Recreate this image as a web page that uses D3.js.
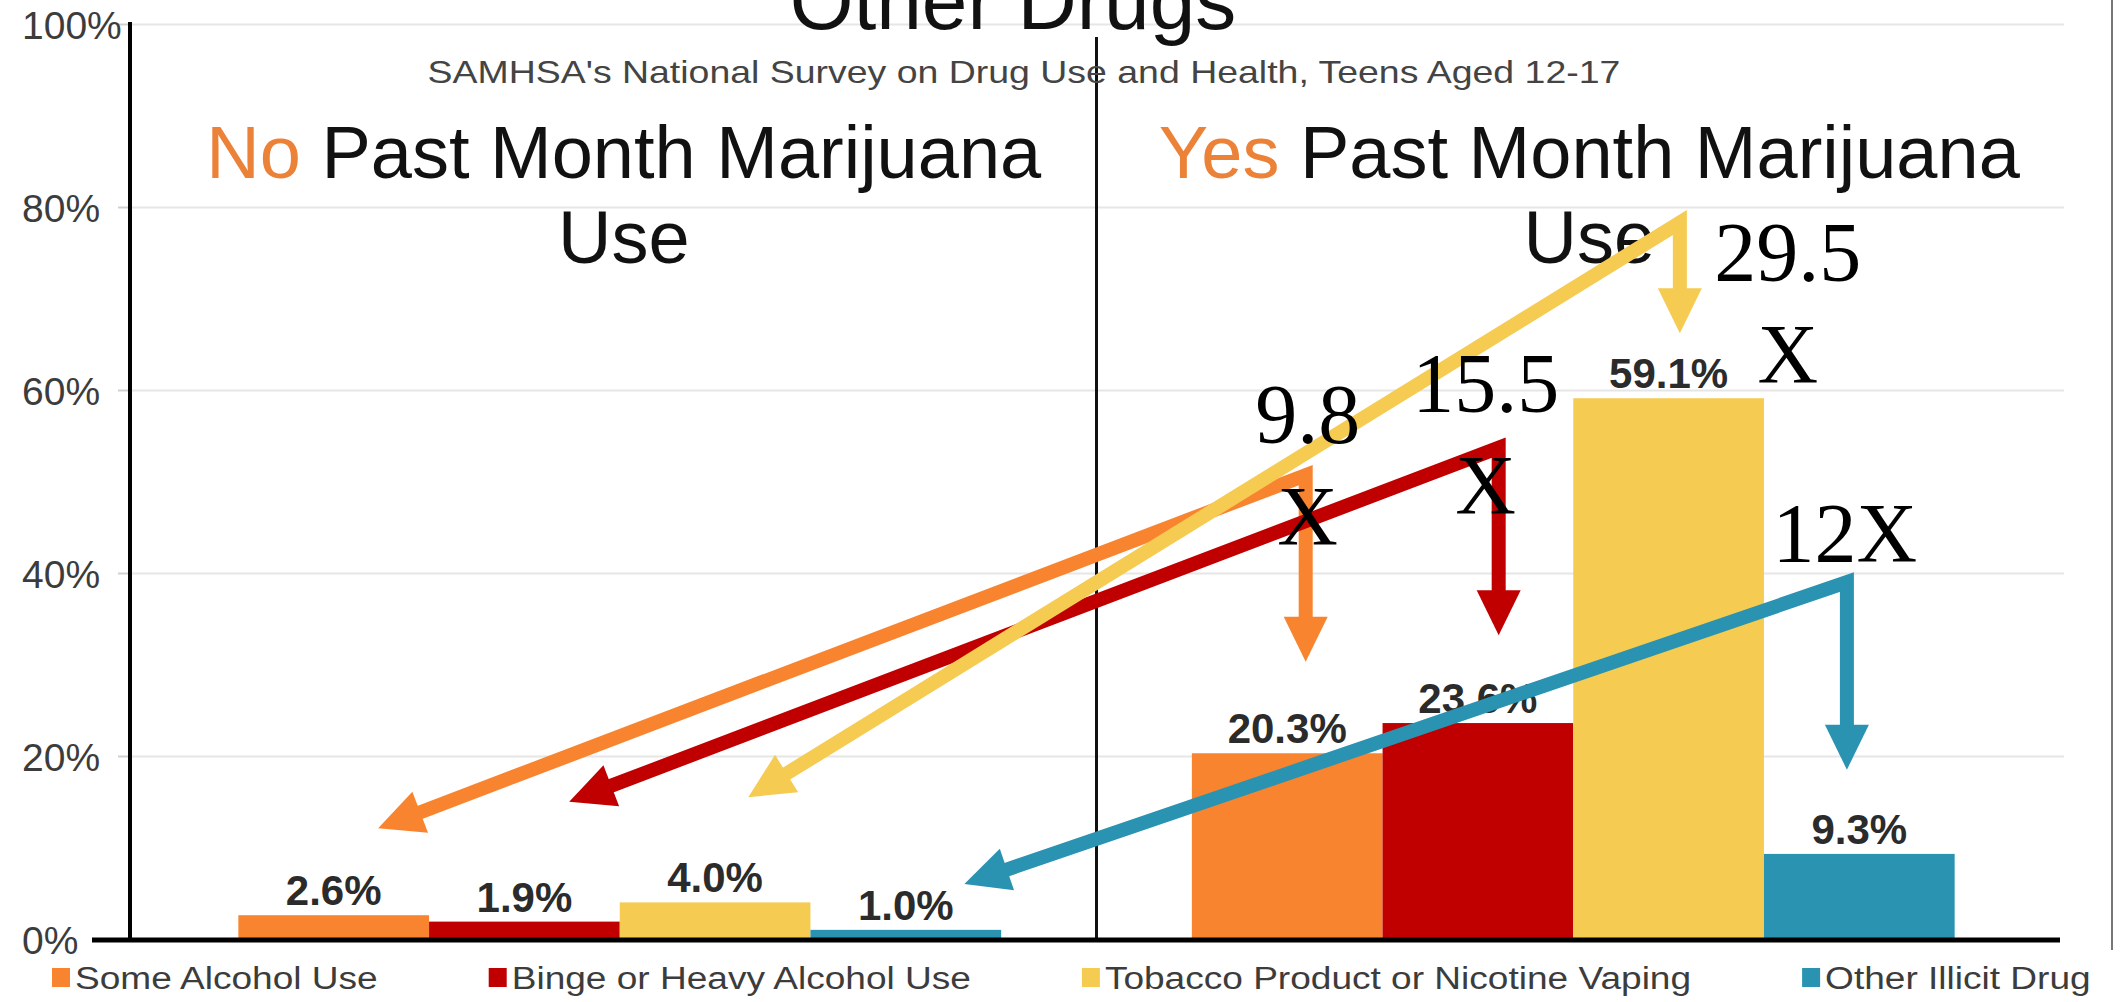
<!DOCTYPE html>
<html>
<head>
<meta charset="utf-8">
<script src="https://cdn.jsdelivr.net/npm/d3@7"></script>
<style>
  html, body { margin: 0; padding: 0; background: #fff; }
  svg { display: block; font-family: "Liberation Sans", Arial, Helvetica, sans-serif; }
</style>
</head>
<body>
<svg id="chart" width="2126" height="1002"></svg>
<script>
// Past-month marijuana use groups
const groups = ["No", "Yes"];
// Substance-use series
const series = [
  "Some Alcohol Use",
  "Binge or Heavy Alcohol Use",
  "Tobacco Product or Nicotine Vaping",
  "Other Illicit Drug"
];
// Percent of teens (12-17) in each group
const noUseValues  = [2.6, 1.9, 4.0, 1.0];
const yesUseValues = [20.3, 23.6, 59.1, 9.3];
const seriesColors = ["#F8842F", "#C00000", "#F6CB52", "#2A93B1"];
const yTicks = [0, 20, 40, 60, 80, 100];

// Call-out arrows: elbow height, down-arrow tip and back-arrow tip in percent units
const multipleLabels = [["9.8", "X"], ["15.5", "X"], ["29.5", "X"], ["12X"]];
const arrowElbow  = [50.7, 53.7, 78.3, 39.0];
const arrowDownTo = [30.3, 33.2, 66.2, 18.5];
const arrowBackTo = [12.1, 15.0, 15.5, 6.0];

// ---- layout ----
const svg = d3.select("#chart");
const axisX = 130;                       // vertical value axis
const plotLeft = 143, plotRight = 2050;  // extent of the two bar panels
const y = d3.scaleLinear().domain([0, 100]).range([939, 24]);
const x0 = d3.scaleBand().domain(groups).range([plotLeft, plotRight]);
const x1 = d3.scaleBand().domain(series).range([0, x0.bandwidth()]).paddingInner(0).paddingOuter(0.5);
const color = d3.scaleOrdinal().domain(series).range(seriesColors);
const valuesByGroup = { "No": noUseValues, "Yes": yesUseValues };
const barCenter = (g, i) => x0(g) + x1(series[i]) + x1.bandwidth() / 2;

// gridlines
svg.append("g")
  .attr("transform", `translate(${axisX},0)`)
  .call(d3.axisLeft(y).tickValues(yTicks.slice(1)).tickSize(-(2064 - axisX)).tickFormat(""))
  .call(g => g.select(".domain").remove())
  .call(g => g.selectAll("line").attr("stroke", "#e6e6e6").attr("stroke-width", 2));

// y axis ticks and labels (labels flush left)
svg.append("g")
  .attr("transform", `translate(${axisX},0)`)
  .call(d3.axisLeft(y).tickValues(yTicks).tickSize(12).tickFormat(d => d + "%"))
  .call(g => g.select(".domain").remove())
  .call(g => {
    g.attr("font-size", 39).attr("font-family", "'Liberation Sans', Arial, sans-serif");
    g.selectAll("line").attr("stroke", "#d0d0d0").attr("stroke-width", 2);
    g.selectAll("text")
      .attr("x", 22 - axisX)
      .attr("text-anchor", "start")
      .attr("dy", "0.36em")
      .attr("fill", "#3c3c3c");
  });

// bars
const barData = [];
groups.forEach(g => valuesByGroup[g].forEach((v, i) => barData.push({ g, s: series[i], i, v })));

svg.append("g").selectAll("rect")
  .data(barData)
  .join("rect")
  .attr("x", d => x0(d.g) + x1(d.s))
  .attr("y", d => y(d.v))
  .attr("width", x1.bandwidth())
  .attr("height", d => y(0) - y(d.v))
  .attr("fill", d => color(d.s));

// value labels
svg.append("g").selectAll("text")
  .data(barData)
  .join("text")
  .attr("x", d => barCenter(d.g, d.i))
  .attr("y", d => y(d.v) - 10)
  .attr("text-anchor", "middle")
  .attr("font-size", 42)
  .attr("font-weight", "bold")
  .attr("fill", "#2b2b2b")
  .text(d => d.v.toFixed(1) + "%");

// axis lines
svg.append("line")
  .attr("x1", axisX).attr("x2", axisX)
  .attr("y1", y(100) - 2).attr("y2", y(0) + 2)
  .attr("stroke", "#000").attr("stroke-width", 4);
svg.append("line")
  .attr("x1", x0("Yes")).attr("x2", x0("Yes"))
  .attr("y1", 37).attr("y2", y(0))
  .attr("stroke", "#111").attr("stroke-width", 3);
svg.append("line")
  .attr("x1", 92).attr("x2", 2060)
  .attr("y1", y(0) + 1).attr("y2", y(0) + 1)
  .attr("stroke", "#000").attr("stroke-width", 5);

// right frame edge
svg.append("line")
  .attr("x1", 2112).attr("x2", 2112).attr("y1", 0).attr("y2", 950)
  .attr("stroke", "#777").attr("stroke-width", 2);

// titles
svg.append("text")
  .attr("x", 1013).attr("y", 29)
  .attr("text-anchor", "middle")
  .attr("font-size", 82)
  .attr("fill", "#111")
  .text("Other Drugs");

function stretchedText(sel, factor) {
  const natural = sel.node().getComputedTextLength();
  sel.attr("textLength", natural * factor).attr("lengthAdjust", "spacingAndGlyphs");
  return natural * factor;
}

const sub = svg.append("text")
  .attr("y", 83)
  .attr("font-size", 32)
  .attr("fill", "#444")
  .text("SAMHSA's National Survey on Drug Use and Health, Teens Aged 12-17");
const subLen = stretchedText(sub, 1.17);
sub.attr("x", 1024 - subLen / 2);

// group headings
const headingShift = { "No": 4, "Yes": 16 };
groups.forEach(g => {
  const cx = x0(g) + x0.bandwidth() / 2 + headingShift[g];
  const t = svg.append("text")
    .attr("x", cx).attr("y", 178)
    .attr("text-anchor", "middle")
    .attr("font-size", 74)
    .attr("fill", "#111");
  t.append("tspan").attr("fill", "#EC8138").text(g);
  t.append("tspan").text(" Past Month Marijuana");
  svg.append("text")
    .attr("x", cx).attr("y", 263)
    .attr("text-anchor", "middle")
    .attr("font-size", 74)
    .attr("fill", "#111")
    .text("Use");
});

// legend
const legend = svg.append("g");
let lx = 52;
series.forEach((s, i) => {
  legend.append("rect")
    .attr("x", lx).attr("y", 968)
    .attr("width", 18).attr("height", 19)
    .attr("fill", seriesColors[i]);
  const t = legend.append("text")
    .attr("x", lx + 23).attr("y", 989)
    .attr("font-size", 31)
    .attr("fill", "#3c3c3c")
    .text(s);
  const len = stretchedText(t, 1.195);
  lx = lx + 23 + len + 111;
});

// call-out arrows from the "Yes" bars back to the "No" bars
const elbowShift = [0.097, 0.109, 0.059, -0.065];
const backShift  = [0.233, 0.235, 0.174, 0.307];
const headLen = 45, headHalf = 22, shaftW = 14;

function unit(a, b) {
  const dx = b[0] - a[0], dy = b[1] - a[1], L = Math.hypot(dx, dy);
  return [dx / L, dy / L];
}
function headPath(tip, dir) {
  const bx = tip[0] - dir[0] * headLen, by = tip[1] - dir[1] * headLen;
  const px = -dir[1], py = dir[0];
  return `M${tip[0]},${tip[1]}L${bx + px * headHalf},${by + py * headHalf}L${bx - px * headHalf},${by - py * headHalf}Z`;
}

const arrows = svg.append("g");
series.forEach((s, i) => {
  const bw = x1.bandwidth();
  const ex = barCenter("Yes", i) + elbowShift[i] * bw;
  const elbow = [ex, y(arrowElbow[i])];
  const downTip = [ex, y(arrowDownTo[i])];
  const backTip = [barCenter("No", i) + backShift[i] * bw, y(arrowBackTo[i])];
  const dDown = unit(elbow, downTip), dBack = unit(elbow, backTip);
  const downEnd = [downTip[0] - dDown[0] * (headLen - 4), downTip[1] - dDown[1] * (headLen - 4)];
  const backEnd = [backTip[0] - dBack[0] * (headLen - 4), backTip[1] - dBack[1] * (headLen - 4)];
  arrows.append("path")
    .attr("d", d3.line()([backEnd, elbow, downEnd]))
    .attr("fill", "none")
    .attr("stroke", seriesColors[i])
    .attr("stroke-width", shaftW)
    .attr("stroke-linejoin", "miter")
    .attr("stroke-miterlimit", 10);
  arrows.append("path").attr("d", headPath(downTip, dDown)).attr("fill", seriesColors[i]);
  arrows.append("path").attr("d", headPath(backTip, dBack)).attr("fill", seriesColors[i]);
});

// "times higher" call-out text
const labelOffset = [[2, -32], [-13, -36], [108, 58], [-2, -20]];
const callouts = svg.append("g")
  .attr("font-family", "'Liberation Serif', 'Times New Roman', serif")
  .attr("font-size", 84)
  .attr("fill", "#000")
  .attr("text-anchor", "middle");
series.forEach((s, i) => {
  const ex = barCenter("Yes", i) + elbowShift[i] * x1.bandwidth();
  const ey = y(arrowElbow[i]);
  multipleLabels[i].forEach((line, k) => {
    callouts.append("text")
      .attr("x", ex + labelOffset[i][0])
      .attr("y", ey + labelOffset[i][1] + k * 102)
      .text(line);
  });
});
</script>
</body>
</html>
